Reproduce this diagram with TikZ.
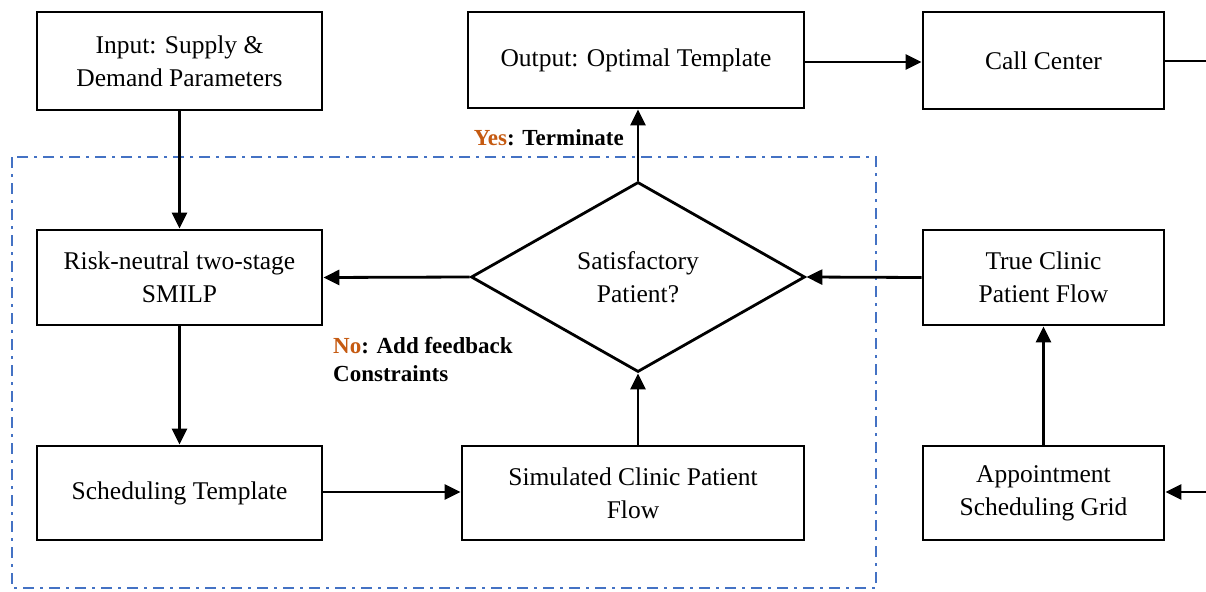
\documentclass[tikz,border=0pt]{standalone}
\usepackage{fontspec}
\setmainfont{Liberation Serif}
\usetikzlibrary{arrows.meta,shapes.geometric}
\definecolor{loopblue}{HTML}{4472C4}
\definecolor{answer}{HTML}{C55A11}
\tikzset{
  box/.style={draw, line width=2.8pt, minimum width=#1, align=center, font=\fontsize{25.5}{33}\selectfont},
  decision/.style={draw, line width=2.8pt, diamond, minimum width=334pt, minimum height=190pt, inner sep=0pt, align=center, font=\fontsize{25.5}{33}\selectfont},
  flow/.style={line width=2.8pt, -{Triangle[length=16pt,width=15pt]}},
  note/.style={font=\bfseries\fontsize{23}{28}\selectfont, align=left, inner sep=0pt},
  loopframe/.style={draw=loopblue, line width=2.4pt, dash pattern=on 11pt off 6pt on 3pt off 6pt},
}
\begin{document}
\begin{tikzpicture}[x=1pt,y=-1pt]
\useasboundingbox (0,0) rectangle (1206,591);
% feedback loop frame
\draw[loopframe] (12,157) rectangle (876,588);
% process boxes
\node[box=285pt, minimum height=98pt] (input) at (179.5,61) {Input: Supply \&\\Demand Parameters};
\node[box=336pt, minimum height=96pt] (output) at (636,60) {Output: Optimal Template};
\node[box=241pt, minimum height=97pt] (call) at (1043.5,60.5) {Call Center};
\node[box=285pt, minimum height=95pt] (smilp) at (179.5,277.5) {Risk-neutral two-stage\\SMILP};
\node[decision] (check) at (638,277) {Satisfactory\\Patient?};
\node[box=241pt, minimum height=95pt] (true) at (1043.5,277.5) {True Clinic\\Patient Flow};
\node[box=285pt, minimum height=94pt] (sched) at (179.5,493) {Scheduling Template};
\node[box=342pt, minimum height=94pt] (sim) at (633,493) {Simulated Clinic Patient\\Flow};
\node[box=241pt, minimum height=94pt] (grid) at (1043.5,493) {Appointment\\Scheduling Grid};
% loose ends at the right margin
\coordinate (callout) at (1206,61);
\coordinate (gridin) at (1206,492);
% connectors
\draw[flow] (input.south) -- (smilp.north);
\draw[flow] (smilp.south) -- (sched.north);
\draw[flow] (sched.east |- 0,492) -- (sim.west |- 0,492);
\draw[flow] (check.south |- sim.north) -- (check.south);
\draw[flow] (check.north) -- (check.north |- output.south);
\draw[flow] (check.west) -- (smilp.east);
\draw[flow] (true.west) -- (check.east);
\draw[flow] (grid.north) -- (true.south);
\draw[flow] (output.east |- 0,62) -- (call.west |- 0,62);
\draw[line width=2.8pt] (call.east |- callout) -- (callout);
\draw[flow] (gridin) -- (grid.east |- gridin);
% decision labels
\node[note, anchor=base east] (yes) at (624,146) {\textcolor{answer}{Yes}: Terminate};
\node[note, anchor=base west] (no) at (333,381) {\textcolor{answer}{No}: Add feedback\\Constraints};
\end{tikzpicture}
\end{document}
